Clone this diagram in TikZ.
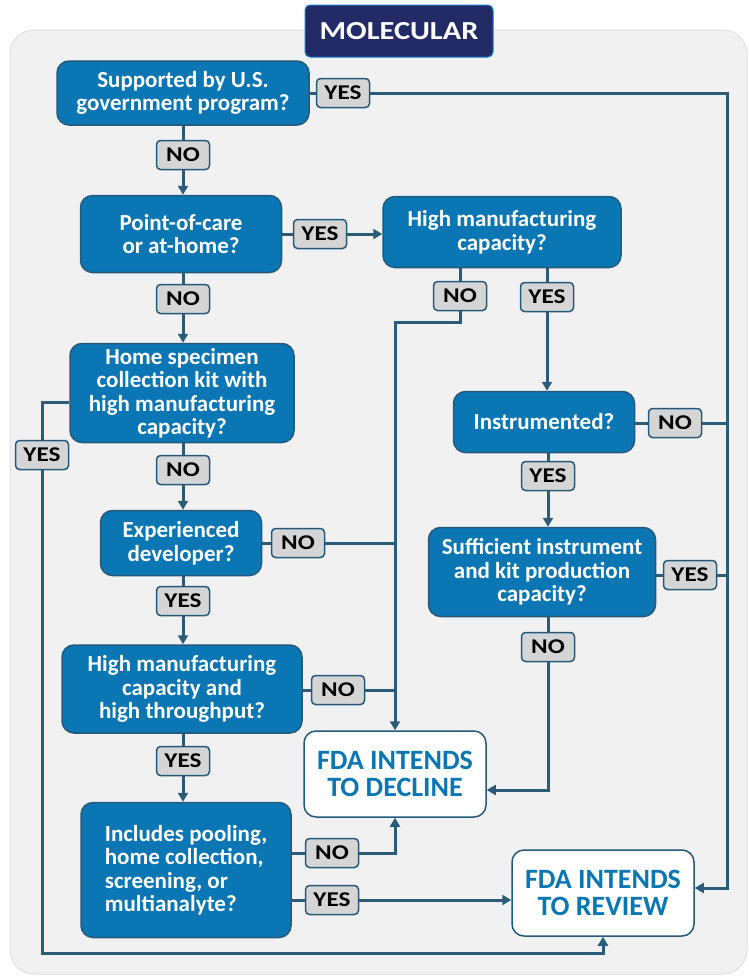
\documentclass[tikz,border=0pt]{standalone}
\usepackage{fontspec}
\setmainfont{Carlito}
\newfontfamily\labfont{Carlito}[FakeStretch=1.2]
\newfontfamily\titfont{Carlito}[FakeStretch=1.17]
\usetikzlibrary{arrows.meta}
\definecolor{qblue}{HTML}{0B76B4}
\definecolor{bdr}{HTML}{24597A}
\definecolor{lcol}{HTML}{2A5B78}
\definecolor{lgray}{HTML}{D5D5D5}
\definecolor{panel}{HTML}{F1F1F1}
\definecolor{navy}{HTML}{232B66}
\tikzset{
  q/.style={draw=bdr, line width=1.5pt, fill=qblue, rounded corners=12pt, text=white,
    font=\bfseries\fontsize{23}{23.5}\selectfont, align=center, inner sep=0pt},
  lab/.style={draw=bdr, line width=1.5pt, fill=lgray, rounded corners=4pt, text=black,
    font=\labfont\bfseries\fontsize{21}{23}\selectfont, minimum width=53pt, minimum height=29pt, inner sep=0pt},
  fin/.style={draw=bdr, line width=1.5pt, fill=white, rounded corners=12pt, text=qblue,
    font=\bfseries\fontsize{28}{27}\selectfont, align=center, minimum width=182pt, minimum height=86pt, inner sep=0pt},
  conn/.style={draw=lcol, line width=3pt},
  arr/.style={conn, -{Triangle[length=9pt,width=10pt]}}
}
\begin{document}
\begin{tikzpicture}[x=1pt,y=-1pt]
\useasboundingbox (0,0) rectangle (748,978);
% panel
\draw[draw=black!12, fill=panel, line width=1pt, rounded corners=24pt] (10,30) rectangle (747,974);
% title
\node[draw=cyan!60!blue, line width=1pt, fill=navy, rounded corners=5pt, text=white,
  font=\titfont\bfseries\fontsize{26}{28}\selectfont, minimum width=188pt, minimum height=52pt, inner sep=0pt]
  (title) at (399,31) {MOLECULAR};

% question boxes
\node[q, minimum width=252pt, minimum height=64pt] (b1) at (183,93) {Supported by U.S.\\government program?};
\node[q, minimum width=201pt, minimum height=77pt] (b2) at (181,234) {Point-of-care\\or at-home?};
\node[q, minimum width=238pt, minimum height=71pt] (b3) at (502,232) {High manufacturing\\capacity?};
\node[q, minimum width=224pt, minimum height=99pt] (b4) at (182,393) {Home specimen\\collection kit with\\high manufacturing\\capacity?};
\node[q, minimum width=161pt, minimum height=65pt] (b5) at (181,543) {Experienced\\developer?};
\node[q, minimum width=240pt, minimum height=88pt] (b6) at (182,689) {High manufacturing\\capacity and\\high throughput?};
\node[q, minimum width=210pt, minimum height=135pt, align=left] (b7) at (186,870) {Includes pooling,\\home collection,\\screening, or\\multianalyte?};
\node[q, minimum width=181pt, minimum height=61pt] (b8) at (544,422) {Instrumented?};
\node[q, minimum width=227pt, minimum height=89pt] (b9) at (542,572) {Sufficient instrument\\and kit production\\capacity?};
\node[fin] (dec) at (395,774) {FDA INTENDS\\TO DECLINE};
\node[fin] (rev) at (603,893) {FDA INTENDS\\TO REVIEW};

% labels
\node[lab] (y1) at (343,93) {YES};
\node[lab] (n1) at (183,155) {NO};
\node[lab] (y2) at (320,234) {YES};
\node[lab] (n2) at (183,299) {NO};
\node[lab] (n3) at (460,296) {NO};
\node[lab] (y3) at (547,297) {YES};
\node[lab] (y4) at (42,455) {YES};
\node[lab] (n4) at (183,470) {NO};
\node[lab] (n5) at (298,543) {NO};
\node[lab] (y5) at (183,601) {YES};
\node[lab] (n6) at (338,690) {NO};
\node[lab] (y6) at (183,761) {YES};
\node[lab] (n7) at (332,853) {NO};
\node[lab] (y7) at (332,900) {YES};
\node[lab] (n8) at (675,423) {NO};
\node[lab] (y8) at (548,476) {YES};
\node[lab] (y9) at (690,575) {YES};
\node[lab] (n9) at (548,647) {NO};

% bus coordinates
\coordinate (busR) at (727,0);
\coordinate (busM) at (395,0);
\coordinate (c322) at (0,322);
\coordinate (c790) at (0,790);
\coordinate (c888) at (0,888);
\coordinate (c402) at (0,402);
\coordinate (c953) at (0,953);

% connectors
\draw[conn] (b1.east |- y1) -- (y1.west);
\draw[arr] (y1.east) -- (y1.east -| busR) -- (busR |- c888) -- (rev.east |- c888);
\draw[conn] (b1.south -| n1) -- (n1.north);
\draw[arr] (n1.south) -- (n1.south |- b2.north);
\draw[conn] (b2.east |- y2) -- (y2.west);
\draw[arr] (y2.east) -- (y2.east -| b3.west);
\draw[conn] (b2.south -| n2) -- (n2.north);
\draw[arr] (n2.south) -- (n2.south |- b4.north);
\draw[conn] (b3.south -| n3) -- (n3.north);
\draw[arr] (n3.south) -- (n3.south |- c322) -- (busM |- c322) -- (dec.north);
\draw[conn] (b3.south -| y3) -- (y3.north);
\draw[arr] (y3.south) -- (y3.south |- b8.north);
\draw[conn] (b8.east |- n8) -- (n8.west);
\draw[conn] (n8.east) -- (n8.east -| busR);
\draw[conn] (b8.south -| y8) -- (y8.north);
\draw[arr] (y8.south) -- (y8.south |- b9.north);
\draw[conn] (b9.east |- y9) -- (y9.west);
\draw[conn] (y9.east) -- (y9.east -| busR);
\draw[conn] (b9.south -| n9) -- (n9.north);
\draw[arr] (n9.south) -- (n9.south |- c790) -- (dec.east |- c790);
\draw[conn] (b4.west |- c402) -- (y4.north |- c402) -- (y4.north);
\draw[arr] (y4.south) -- (y4.south |- c953) -- (rev.south |- c953) -- (rev.south);
\draw[conn] (b4.south -| n4) -- (n4.north);
\draw[arr] (n4.south) -- (n4.south |- b5.north);
\draw[conn] (b5.east |- n5) -- (n5.west);
\draw[conn] (n5.east) -- (n5.east -| busM);
\draw[conn] (b5.south -| y5) -- (y5.north);
\draw[arr] (y5.south) -- (y5.south |- b6.north);
\draw[conn] (b6.east |- n6) -- (n6.west);
\draw[conn] (n6.east) -- (n6.east -| busM);
\draw[conn] (b6.south -| y6) -- (y6.north);
\draw[arr] (y6.south) -- (y6.south |- b7.north);
\draw[conn] (b7.east |- n7) -- (n7.west);
\draw[arr] (n7.east) -- (n7.east -| dec.south) -- (dec.south);
\draw[conn] (b7.east |- y7) -- (y7.west);
\draw[arr] (y7.east) -- (y7.east -| rev.west);
\end{tikzpicture}
\end{document}
